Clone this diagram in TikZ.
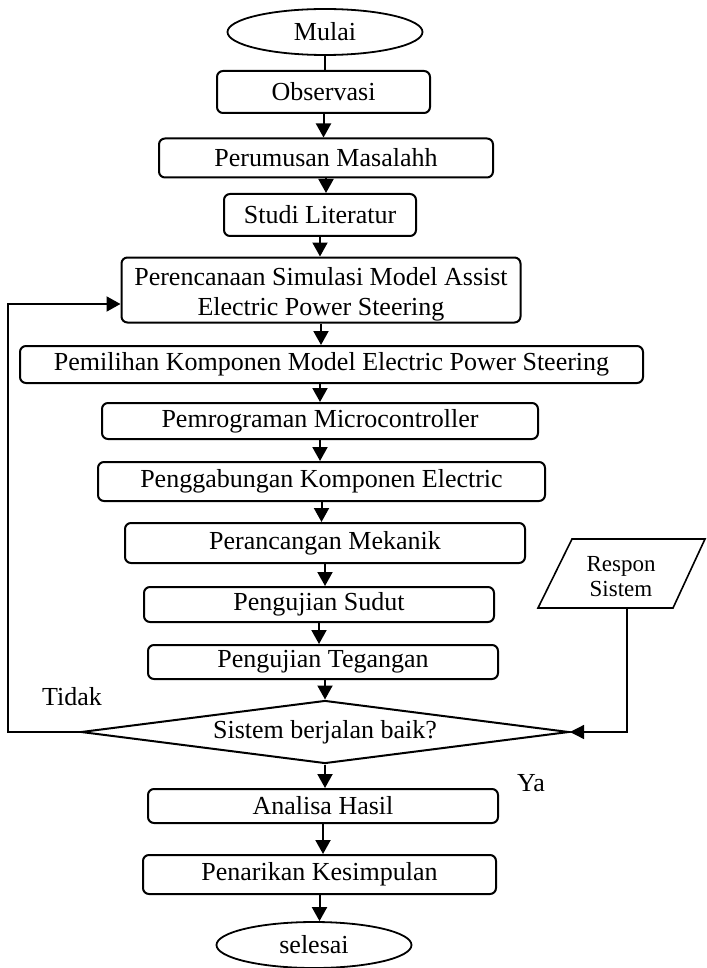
\documentclass[tikz,border=0pt]{standalone}
\usepackage{fontspec}
\setmainfont{Liberation Serif}
\usetikzlibrary{shapes.geometric,arrows.meta}
\begin{document}
\begin{tikzpicture}[x=1pt,y=-1pt,
  txt/.style={font=\fontsize{26}{30}\selectfont},
  box/.style={txt,draw,line width=2pt,rounded corners=6pt,inner sep=0pt,align=center},
  term/.style={txt,draw,ellipse,line width=1.8pt,inner sep=0pt,minimum width=195pt,minimum height=46pt},
  arr/.style={line width=2pt,-{Triangle[length=14pt,width=15pt]}}]
\useasboundingbox (0,0) rectangle (706,968);

\node[term] (mulai) at (325,32) {Mulai};
\node[box,minimum width=213pt,minimum height=42pt] (obs) at (323.5,92) {Observasi};
\node[box,minimum width=334pt,minimum height=39pt] (rum) at (326,158) {Perumusan Masalahh};
\node[box,minimum width=192pt,minimum height=42pt] (stu) at (320,215) {Studi Literatur};
\node[box,minimum width=399pt,minimum height=65pt] (ren) at (321,290) {\raisebox{-4pt}[\height][\depth]{\begin{tabular}{@{}c@{}}Perencanaan Simulasi Model Assist\\Electric Power Steering\end{tabular}}};
\node[box,minimum width=623pt,minimum height=37pt] (pil) at (331.5,364.5) {Pemilihan Komponen Model Electric Power Steering};
\node[box,minimum width=436pt,minimum height=36pt] (pro) at (320,421) {Pemrograman Microcontroller};
\node[box,minimum width=447pt,minimum height=39pt] (gab) at (321.5,481.5) {Penggabungan Komponen Electric};
\node[box,minimum width=400pt,minimum height=40pt] (mek) at (325,543) {Perancangan Mekanik};
\node[box,minimum width=350pt,minimum height=35pt] (sud) at (319,604.5) {Pengujian Sudut};
\node[box,minimum width=350pt,minimum height=34pt] (teg) at (323,662) {Pengujian Tegangan};
\node[txt,draw,diamond,line width=2pt,aspect=7.75,minimum width=488pt,minimum height=63pt,inner sep=0pt] (dec) at (325,732) {Sistem berjalan baik?};
\node[box,minimum width=350pt,minimum height=34pt] (ana) at (323,806) {Analisa Hasil};
\node[box,minimum width=353pt,minimum height=39pt] (tar) at (319.5,874.5) {Penarikan Kesimpulan};
\node[term] (sel) at (314,945) {selesai};

% input parallelogram
\draw[line width=1.6pt] (572,539) -- (705,539) -- (673,608) -- (538,608) -- cycle;
\node[font=\fontsize{23}{25}\selectfont,align=center,inner sep=0pt] (resp) at (621,577) {Respon\\Sistem};
\coordinate (rsbot) at (627,608);

% labels
\node[txt,inner sep=0pt] (tidak) at (72,697) {Tidak};
\node[txt,inner sep=0pt] (ya) at (531,783) {Ya};

% connectors
\draw[line width=1.6pt] (mulai.south) -- (mulai.south |- obs.north);
\draw[arr] (obs.south) -- (obs.south |- rum.north);
\draw[arr] (rum.south) -- (rum.south |- stu.north);
\draw[arr] (stu.south) -- (stu.south |- ren.north);
\draw[arr] (ren.south) -- (ren.south |- pil.north);
\draw[arr] (pil.south -| pro.north) -- (pro.north);
\draw[arr] (pro.south) -- (pro.south |- gab.north);
\draw[arr] (gab.south) -- (gab.south |- mek.north);
\draw[arr] (mek.south) -- (mek.south |- sud.north);
\draw[arr] (sud.south) -- (sud.south |- teg.north);
\draw[arr] (teg.south -| dec.north) -- (dec.north);
\draw[arr] (dec.south) -- (dec.south |- ana.north);
\draw[arr] (ana.south) -- (ana.south |- tar.north);
\draw[arr] (tar.south) -- (tar.south |- sel.north);

\coordinate (lp) at (7.5,732);
\draw[arr] (dec.west) -- (lp) |- ([yshift=-14pt]ren.west);
\draw[line width=1.3pt,-{Triangle[length=14pt,width=14pt]}] (rsbot) |- (dec.east);
\end{tikzpicture}
\end{document}
